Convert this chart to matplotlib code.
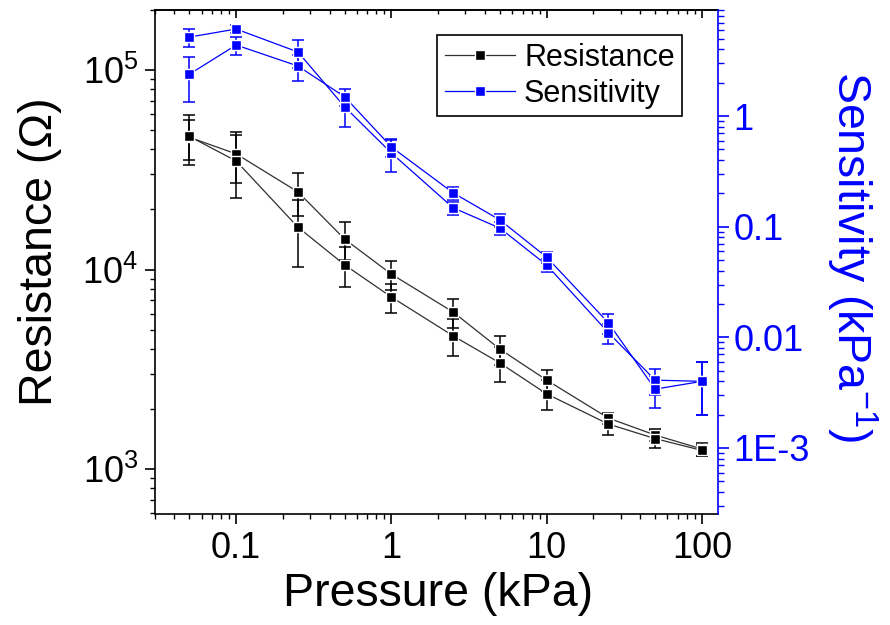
import matplotlib
matplotlib.use('Agg')
import matplotlib.pyplot as plt
from matplotlib.lines import Line2D
from matplotlib.ticker import FixedLocator, FixedFormatter, LogLocator, NullFormatter

plt.rcParams['font.family'] = ['Liberation Sans', 'DejaVu Sans']
plt.rcParams['mathtext.fontset'] = 'custom'
plt.rcParams['mathtext.rm'] = 'Liberation Sans'
plt.rcParams['mathtext.default'] = 'regular'

# pressure steps (kPa)
pressure = [0.05, 0.1, 0.25, 0.5, 1, 2.5, 5, 10, 25, 50, 100]

# resistance, two sweeps (ohm)
res_a = [46000, 38000, 24500, 14200, 9480, 6120, 3990, 2790, 1800, 1480, 1260]
res_a_err = [10500, 10900, 6000, 3100, 1560, 1000, 660, 340, 120, 100, 95]
res_b = [46500, 35000, 16300, 10550, 7280, 4650, 3400, 2380, 1680, 1420, 1240]
res_b_err = [12900, 12200, 6000, 2400, 1230, 970, 670, 400, 200, 150, 80]

# sensitivity, two sweeps (1/kPa)
sens_a = [5.17, 6.11, 3.79, 1.21, 0.463, 0.148, 0.097, 0.045, 0.011, 0.0041, 0.0040]
sens_a_err = [0.93, 0.5, 1.07, 0.41, 0.15, 0.02, 0.013, 0.006, 0.0023, 0.0011, 0.002]
sens_b = [2.39, 4.38, 2.83, 1.49, 0.525, 0.202, 0.115, 0.053, 0.0135, 0.0034, 0.0040]
sens_b_err = [1.05, 0.8, 0.76, 0.26, 0.1, 0.027, 0.015, 0.006, 0.0028, 0.0011, 0.002]

sens_ticks = [1, 0.1, 0.01, 0.001]
sens_ticklabels = ['1', '0.1', '0.01', '1E-3']

BLUE = '#0000ff'
TICK_FS = 26
LABEL_FS = 33.5

fig = plt.figure(figsize=(8.9, 6.25), dpi=100)
ax = fig.add_axes([155 / 890, 1 - 514 / 625, 563 / 890, 504 / 625])
ax2 = ax.twinx()


def draw_series(axis, y, yerr, color, linecolor):
    axis.errorbar(pressure, y, yerr=yerr, fmt='none', ecolor=color,
                  elinewidth=1.1, capsize=4, capthick=1.1, zorder=2)
    axis.plot(pressure, y, '-', color=linecolor, lw=0.9, zorder=1)
    axis.plot(pressure, y, 's', color=color, ms=6.5, mec='white', mew=1.0,
              zorder=3, linestyle='none')


draw_series(ax, res_a, res_a_err, 'black', '#303030')
draw_series(ax, res_b, res_b_err, 'black', '#303030')
draw_series(ax2, sens_a, sens_a_err, BLUE, BLUE)
draw_series(ax2, sens_b, sens_b_err, BLUE, BLUE)

ax.set_xscale('log')
ax.set_yscale('log')
ax2.set_yscale('log')
ax.set_xlim(0.030, 127)
ax.set_ylim(595, 2.0e5)
ax2.set_ylim(2.53e-4, 9.08)

# spines
for s in ax.spines.values():
    s.set_linewidth(1.2)
ax.spines['right'].set_visible(False)
ax2.spines['left'].set_visible(False)
ax2.spines['top'].set_visible(False)
ax2.spines['bottom'].set_visible(False)
ax2.spines['right'].set_color(BLUE)
ax2.spines['right'].set_linewidth(1.2)

# ticks
ax.tick_params(axis='both', which='major', direction='out', length=7, width=1.2,
               labelsize=TICK_FS, pad=5)
ax.tick_params(axis='both', which='minor', direction='out', length=3.5, width=1.0)
ax.yaxis.set_minor_formatter(NullFormatter())
ax.xaxis.set_minor_formatter(NullFormatter())
ax.xaxis.set_major_locator(FixedLocator([0.1, 1, 10, 100]))
ax.xaxis.set_major_formatter(FixedFormatter(['0.1', '1', '10', '100']))
ax.xaxis.set_minor_locator(LogLocator(base=10, subs=range(2, 10), numticks=20))

top = ax.secondary_xaxis('top')
top.tick_params(axis='x', which='major', direction='in', length=6, width=1.2,
                labeltop=False)
top.tick_params(axis='x', which='minor', direction='in', length=3, width=1.0)
top.xaxis.set_major_locator(FixedLocator([0.1, 1, 10, 100]))
top.xaxis.set_minor_locator(LogLocator(base=10, subs=range(2, 10), numticks=20))
top.xaxis.set_major_formatter(NullFormatter())
top.xaxis.set_minor_formatter(NullFormatter())
top.spines['top'].set_linewidth(1.2)

ax2.yaxis.set_major_locator(FixedLocator(sens_ticks))
ax2.yaxis.set_major_formatter(FixedFormatter(sens_ticklabels))
ax2.yaxis.set_minor_locator(LogLocator(base=10, subs=range(2, 10), numticks=20))
ax2.yaxis.set_minor_formatter(NullFormatter())
ax2.tick_params(axis='y', which='major', direction='out', length=8, width=1.2,
                colors=BLUE, labelsize=TICK_FS, pad=3)
ax2.tick_params(axis='y', which='minor', direction='out', length=4, width=1.0,
                colors=BLUE)

# labels
ax.set_xlabel('Pressure (kPa)', fontsize=LABEL_FS)
ax.xaxis.set_label_coords(0.502, -0.115)
ax.set_ylabel('Resistance (Ω)', fontsize=LABEL_FS)
ax.yaxis.set_label_coords(-0.165, 0.52)
ax2.set_ylabel('Sensitivity (kPa$^{-1}$)', fontsize=LABEL_FS, color=BLUE,
               rotation=270)
ax2.yaxis.set_label_coords(1.287, 0.51)

# legend
handles = [
    Line2D([], [], color='#303030', lw=0.9, marker='s', ms=6.5, mfc='black',
           mec='white', mew=1.0),
    Line2D([], [], color=BLUE, lw=0.9, marker='s', ms=6.5, mfc=BLUE,
           mec='white', mew=1.0),
]
leg = ax2.legend(handles, ['Resistance', 'Sensitivity'], loc='upper left',
                 bbox_to_anchor=(437 / 890, 1 - 35 / 625),
                 bbox_transform=fig.transFigure, fontsize=22, frameon=True,
                 fancybox=False, edgecolor='black', framealpha=1,
                 handlelength=2.3, handletextpad=0.3, borderpad=0.25,
                 labelspacing=0.2, borderaxespad=0)
leg.get_frame().set_linewidth(1.2)

fig.savefig('out.png', dpi=100)
